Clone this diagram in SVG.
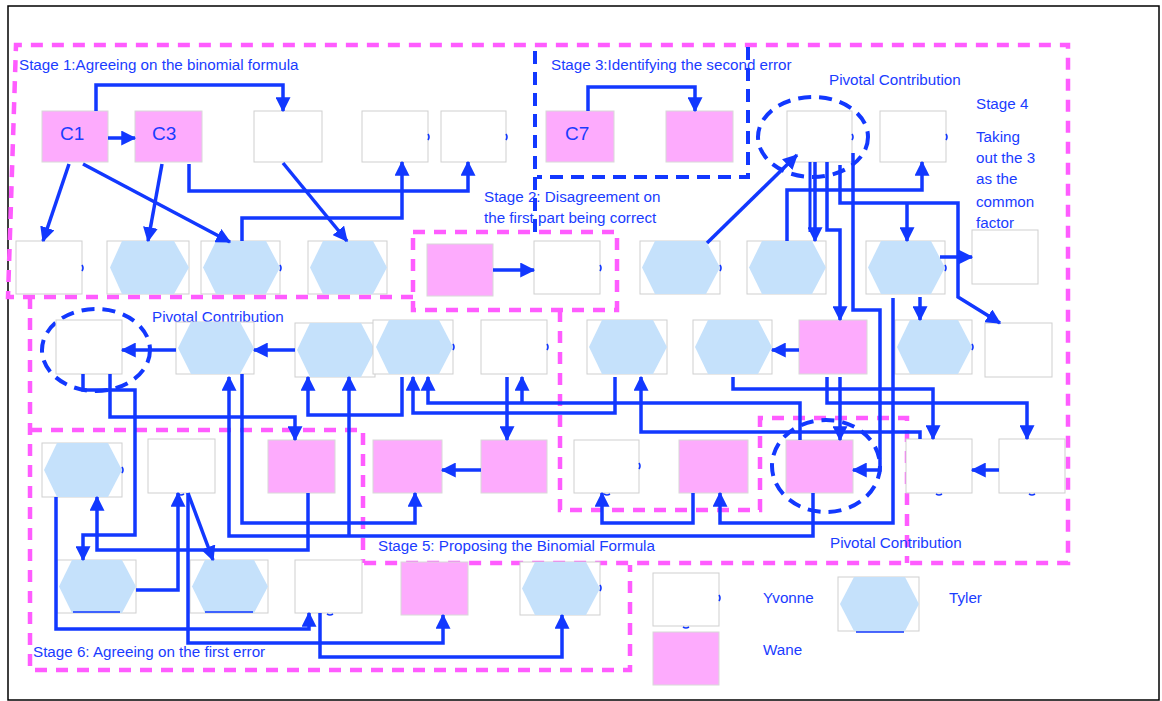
<svg xmlns="http://www.w3.org/2000/svg" width="1162" height="701" viewBox="0 0 1162 701">
<style>
.w{fill:#ffffff;stroke:#cfcfcf;stroke-width:1}
.p{fill:#fdabfd;stroke:#d8d8d8;stroke-width:1}
.hb{fill:#ffffff;stroke:#cfcfcf;stroke-width:1}
.hx{fill:#c5e1fb;stroke:none}
.t{font-family:"Liberation Sans",Arial,sans-serif;font-size:15.2px;fill:#1a3cff}
.tc{font-family:"Liberation Sans",Arial,sans-serif;font-size:19px;fill:#1a3cff}
.c{fill:none;stroke:#1238ff;stroke-width:3.5;marker-end:url(#ah)}
.cn{fill:none;stroke:#1238ff;stroke-width:3}
.mg{fill:none;stroke:#ff5cff;stroke-width:4.5;stroke-dasharray:12 9}
.bd{fill:none;stroke:#1238ff;stroke-width:4;stroke-dasharray:13 8}
.mk{fill:none;stroke:#1238ff;stroke-width:1.6}
</style>
<defs>
<marker id="ah" viewBox="0 0 12 12" refX="11" refY="6" markerWidth="15" markerHeight="15" markerUnits="userSpaceOnUse" orient="auto">
<path d="M0,0 L12,6 L0,12 z" fill="#1238ff"/>
</marker>
</defs>
<rect x="0" y="0" width="1162" height="701" fill="#ffffff"/>
<rect x="8" y="6" width="1151" height="694" fill="none" stroke="#000000" stroke-width="1.5"/>

<g id="stages">
<path class="mg" d="M413,297 L8,297 L16,45 L1068,45 L1068,563 L363,563"/>
<path class="mg" d="M413,232 H617 V310 H413 Z"/>
<path class="mg" d="M30,297 V670 H630 V565"/>
<path class="mg" d="M30,430 H363 V563"/>
<path class="mg" d="M560,310 V510 H760 V418 H907 V563"/>
<path class="bd" d="M535,232 V47"/>
<path class="bd" d="M748,47 V177 H537"/>
<ellipse class="bd" cx="813" cy="137" rx="55" ry="40"/>
<ellipse class="bd" cx="96" cy="350" rx="54" ry="41"/>
<ellipse class="bd" cx="826" cy="466" rx="54" ry="46"/>
</g>

<g id="labels">
<text class="t" x="19" y="70">Stage 1:Agreeing on the binomial formula</text>
<text class="t" x="551" y="70">Stage 3:Identifying the  second error</text>
<text class="t" x="829" y="85">Pivotal Contribution</text>
<text class="t" x="976" y="109">Stage 4</text>
<text class="t" x="976" y="142">Taking</text>
<text class="t" x="976" y="163">out the 3</text>
<text class="t" x="976" y="184">as the</text>
<text class="t" x="976" y="207">common</text>
<text class="t" x="976" y="228">factor</text>
<text class="t" x="484" y="202">Stage 2: Disagreement on</text>
<text class="t" x="484" y="223">the first part being correct</text>
<text class="t" x="152" y="322">Pivotal Contribution</text>
<text class="t" x="378" y="551">Stage 5: Proposing the Binomial Formula</text>
<text class="t" x="830" y="548">Pivotal Contribution</text>
<text class="t" x="33" y="657">Stage 6: Agreeing on the first error</text>
<text class="t" x="763" y="603">Yvonne</text>
<text class="t" x="949" y="603">Tyler</text>
<text class="t" x="763" y="655">Wane</text>
</g>

<g id="nodes">
<g id="c1"><rect class="p" x="42" y="111" width="66" height="51"/><text class="tc" x="60" y="140">C1</text></g>
<g id="c3"><rect class="p" x="135" y="111" width="67" height="51"/><text class="tc" x="152" y="140">C3</text></g>
<g id="w1"><rect class="w" x="254" y="111" width="68" height="51"/></g>
<g id="w2"><rect class="w" x="362" y="111" width="66" height="51"/></g>
<g id="w3"><rect class="w" x="441" y="111" width="65" height="51"/></g>
<g id="c7"><rect class="p" x="546" y="111" width="68" height="51"/><text class="tc" x="565" y="140">C7</text></g>
<g id="p1"><rect class="p" x="666" y="111" width="67" height="51"/></g>
<g id="w4"><rect class="w" x="787" y="111" width="65" height="51"/></g>
<g id="w5"><rect class="w" x="880" y="111" width="66" height="51"/></g>

<g id="w6"><rect class="w" x="16" y="241" width="66" height="53"/></g>
<g id="h1"><rect class="hb" x="107" y="241" width="82" height="53"/><polygon class="hx" points="110,267.5 122,241 174,241 189,267.5 174,294 122,294"/></g>
<g id="h2"><rect class="hb" x="201" y="241" width="79" height="53"/><polygon class="hx" points="203,267.5 216,241 266,241 280,267.5 266,294 216,294"/></g>
<g id="h3"><rect class="hb" x="308" y="241" width="79" height="53"/><polygon class="hx" points="310,267.5 323,241 373,241 387,267.5 373,294 323,294"/></g>
<g id="p2"><rect class="p" x="427" y="244" width="66" height="52"/></g>
<g id="w7"><rect class="w" x="534" y="241" width="66" height="53"/></g>
<g id="h4"><rect class="hb" x="640" y="241" width="80" height="53"/><polygon class="hx" points="642,267.5 655,241 706,241 720,267.5 706,294 655,294"/></g>
<g id="h5"><rect class="hb" x="747" y="241" width="79" height="53"/><polygon class="hx" points="749,267.5 762,241 812,241 826,267.5 812,294 762,294"/></g>
<g id="h6"><rect class="hb" x="866" y="241" width="79" height="53"/><polygon class="hx" points="868,267.5 881,241 931,241 945,267.5 931,294 881,294"/></g>
<g id="w8"><rect class="w" x="972" y="230" width="66" height="54"/></g>

<g id="w9"><rect class="w" x="56" y="320" width="66" height="54"/></g>
<g id="h7"><rect class="hb" x="176" y="322" width="78" height="52"/><polygon class="hx" points="178,348 191,322 240,322 254,348 240,374 191,374"/></g>
<g id="h8"><rect class="hb" x="295" y="323" width="80" height="54"/><polygon class="hx" points="297,350 310,323 361,323 375,350 361,377 310,377"/></g>
<g id="h9"><rect class="hb" x="373" y="320" width="80" height="54"/><polygon class="hx" points="376,347 389,320 439,320 453,347 439,374 389,374"/></g>
<g id="w10"><rect class="w" x="481" y="320" width="66" height="54"/></g>
<g id="h10"><rect class="hb" x="587" y="320" width="80" height="54"/><polygon class="hx" points="589,347 602,320 653,320 667,347 653,374 602,374"/></g>
<g id="h11"><rect class="hb" x="693" y="320" width="79" height="54"/><polygon class="hx" points="695,347 708,320 758,320 772,347 758,374 708,374"/></g>
<g id="p3"><rect class="p" x="799" y="320" width="68" height="54"/></g>
<g id="h12"><rect class="hb" x="895" y="320" width="77" height="54"/><polygon class="hx" points="897,347 910,320 958,320 972,347 958,374 910,374"/></g>
<g id="w11"><rect class="w" x="985" y="323" width="67" height="54"/></g>

<g id="h13"><rect class="hb" x="42" y="443" width="80" height="54"/><polygon class="hx" points="44,470 57,443 108,443 122,470 108,497 57,497"/></g>
<g id="w12"><rect class="w" x="148" y="439" width="67" height="54"/></g>
<g id="p4"><rect class="p" x="268" y="440" width="67" height="53"/></g>
<g id="p5"><rect class="p" x="373" y="440" width="69" height="53"/></g>
<g id="p6"><rect class="p" x="481" y="440" width="66" height="53"/></g>
<g id="w13"><rect class="w" x="574" y="440" width="65" height="53"/></g>
<g id="p7"><rect class="p" x="679" y="440" width="69" height="53"/></g>
<g id="p8"><rect class="p" x="786" y="440" width="67" height="53"/></g>
<g id="w14"><rect class="w" x="906" y="439" width="66" height="54"/></g>
<g id="w15"><rect class="w" x="999" y="439" width="66" height="54"/></g>

<g id="h14"><rect class="hb" x="57" y="560" width="79" height="53"/><polygon class="hx" points="59,586.5 72,560 122,560 136,586.5 122,613 72,613"/></g>
<g id="h15"><rect class="hb" x="190" y="560" width="78" height="53"/><polygon class="hx" points="192,586.5 205,560 254,560 268,586.5 254,613 205,613"/></g>
<g id="w16"><rect class="w" x="295" y="560" width="67" height="53"/></g>
<g id="p9"><rect class="p" x="401" y="562" width="67" height="53"/></g>
<g id="h16"><rect class="hb" x="520" y="562" width="80" height="53"/><polygon class="hx" points="522,588.5 535,562 586,562 600,588.5 586,615 535,615"/></g>

<g id="legend-yvonne"><rect class="w" x="653" y="573" width="66" height="53"/></g>
<g id="legend-wane"><rect class="p" x="653" y="632" width="66" height="53"/></g>
<g id="legend-tyler"><rect class="hb" x="838" y="577" width="81" height="54"/><polygon class="hx" points="840,604 854,577 905,577 919,604 905,631 854,631"/></g>
</g>

<g id="marks">
<path class="mk" d="M428,134 q2,3 0,6 M506,134 q2,3 0,6 M946,134 q2,3 0,6 M852,134 q2,3 0,6 M82,265 q2,3 0,6 M600,265 q2,3 0,6 M720,265 q2,3 0,6 M280,265 q2,3 0,6 M945,265 q2,3 0,6 M453,344 q2,3 0,6 M547,344 q2,3 0,6 M972,344 q2,3 0,6 M122,467 q2,3 0,6 M639,463 q2,3 0,6 M600,585 q2,3 0,6 M719,595 q2,3 0,6"/>
<path class="mk" d="M178,494 q3,2 6,0 M327,614 q3,2 6,0 M604,494 q3,2 6,0 M936,494 q3,2 6,0 M1029,494 q3,2 6,0 M683,627 q3,2 6,0"/>
<path class="mk" d="M73,612 H120 M205,612 H253 M856,632 H904"/>
</g>

<g id="connectors">
<path class="c" d="M96,111 V85 H283 V111"/>
<path class="c" d="M108,138 H135"/>
<path class="c" d="M69,164 L43,241"/>
<path class="c" d="M83,164 L230,242"/>
<path class="c" d="M162,164 L148,241"/>
<path class="c" d="M189,164 V191 H468 V162"/>
<path class="c" d="M242,241 V218 H402 V162"/>
<path class="c" d="M283,163 L347,241"/>
<path class="c" d="M588,111 V87 H695 V111"/>
<path class="c" d="M493,270 H534"/>
<path class="c" d="M707,243 L797,155"/>
<path class="cn" d="M810,162 V232"/>
<path class="c" d="M815,162 V241"/>
<path class="c" d="M827,162 V230 H840 V320"/>
<path class="c" d="M840,165 V203 H958 V297 L1000,323"/>
<path class="c" d="M907,203 V241"/>
<path class="c" d="M853,153 V310 H880 V470 H853"/>
<path class="c" d="M787,241 V190 H922 V162"/>
<path class="c" d="M940,257 H972"/>
<path class="c" d="M920,297 V320"/>
<path class="c" d="M893,298 V523 H720 V493"/>
<path class="c" d="M799,350 H772"/>
<path class="c" d="M827,377 V403 H1027 V439"/>
<path class="c" d="M840,377 V440"/>
<path class="c" d="M733,377 V389 H933 V439"/>
<path class="c" d="M800,440 V403 H428 V377"/>
<path class="c" d="M522,403 V377"/>
<path class="c" d="M615,377 V413 H413 V377"/>
<path class="c" d="M402,377 V415 H308 V377"/>
<path class="c" d="M507,377 V440"/>
<path class="c" d="M481,470 H442"/>
<path class="c" d="M242,374 V523 H415 V493"/>
<path class="c" d="M813,493 V536 H229 V377"/>
<path class="c" d="M349,536 V377"/>
<path class="c" d="M693,493 V523 H602 V493"/>
<path class="c" d="M920,439 V432 H641 V377"/>
<path class="c" d="M999,470 H972"/>
<path class="c" d="M295,350 H254"/>
<path class="c" d="M176,350 H122"/>
<path class="c" d="M110,374 V417 H295 V440"/>
<path class="c" d="M83,374 V390 H135 V535 H83 V560"/>
<path class="c" d="M56,497 V629 H309 V613"/>
<path class="c" d="M308,493 V550 H97 V497"/>
<path class="c" d="M136,590 H178 V493"/>
<path class="c" d="M188,493 L213,560"/>
<path class="c" d="M188,493 V643 H443 V615"/>
<path class="c" d="M320,613 V657 H562 V615"/>
</g>
</svg>
